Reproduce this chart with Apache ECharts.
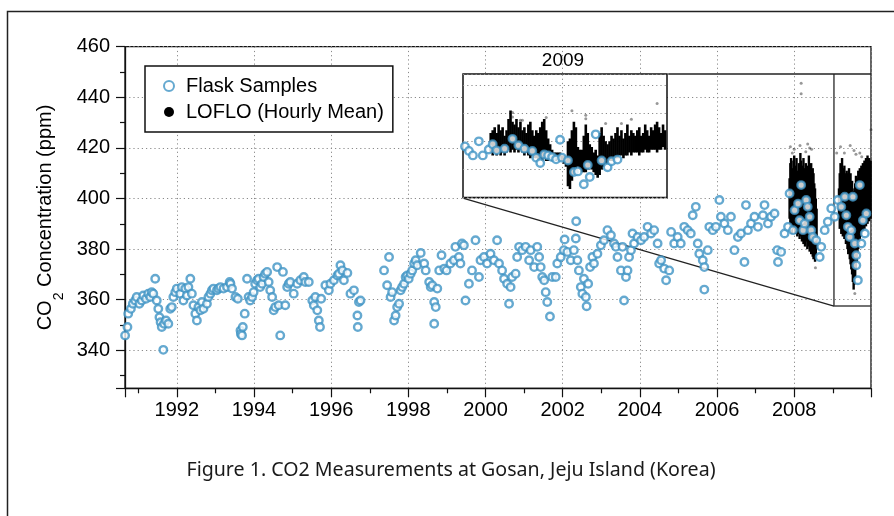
<!DOCTYPE html>
<html><head><meta charset="utf-8">
<script src="https://cdn.jsdelivr.net/npm/echarts@6/dist/echarts.min.js"></script>
<style>html,body{margin:0;padding:0;background:#fff}#c{width:894px;height:516px}</style>
</head><body><div id="c"></div>
<script>
// ---- Flask samples [decimal year, ppm] ----
const flaskSamples = [
[1990.66,345.9],[1990.72,349.2],[1990.74,354.5],[1990.81,356.4],[1990.86,358.4],[1990.92,359.7],[1990.96,361.1],
[1991.03,358.4],[1991.09,359.7],[1991.13,361.7],[1991.20,360.4],[1991.26,362.4],[1991.31,361.1],[1991.35,363.0],
[1991.39,362.4],[1991.44,368.3],[1991.48,359.7],[1991.52,356.4],[1991.55,353.1],[1991.58,351.1],[1991.61,349.2],
[1991.65,340.2],[1991.67,350.5],[1991.72,351.8],[1991.78,350.5],[1991.83,356.4],[1991.87,357.1],[1991.91,361.1],
[1991.96,363.0],[1992.00,364.4],[1992.09,362.4],[1992.13,365.0],[1992.17,359.7],[1992.22,364.4],[1992.26,361.7],
[1992.30,365.0],[1992.35,368.3],[1992.39,362.4],[1992.43,357.8],[1992.48,354.5],[1992.52,351.8],[1992.56,357.1],
[1992.61,355.8],[1992.65,359.1],[1992.69,356.4],[1992.78,358.4],[1992.82,361.1],[1992.87,362.4],[1992.91,363.7],
[1992.95,364.4],[1993.04,363.7],[1993.08,364.4],[1993.13,365.0],[1993.21,364.4],[1993.30,365.0],[1993.37,367.0],
[1993.39,366.3],[1993.43,364.4],[1993.52,361.1],[1993.58,360.4],[1993.65,347.8],[1993.66,346.5],[1993.69,345.9],
[1993.71,349.2],[1993.76,354.5],[1993.82,368.3],[1993.86,361.1],[1993.90,359.7],[1993.95,361.1],[1993.99,363.0],
[1994.03,366.3],[1994.08,367.7],[1994.12,368.3],[1994.16,365.0],[1994.21,366.3],[1994.25,369.0],[1994.29,370.3],
[1994.34,371.0],[1994.38,367.0],[1994.42,363.7],[1994.47,361.1],[1994.51,355.8],[1994.55,357.1],[1994.60,372.9],
[1994.64,357.8],[1994.68,345.9],[1994.75,371.0],[1994.81,357.8],[1994.86,365.0],[1994.90,366.3],[1994.94,367.0],
[1995.03,362.4],[1995.12,366.3],[1995.20,367.7],[1995.29,369.0],[1995.33,367.0],[1995.42,367.0],[1995.51,359.7],
[1995.55,357.8],[1995.59,361.1],[1995.64,355.8],[1995.68,351.8],[1995.71,349.2],[1995.74,360.4],[1995.85,365.7],
[1995.94,363.7],[1995.98,366.3],[1996.07,367.7],[1996.16,369.6],[1996.20,370.3],[1996.24,373.6],[1996.29,371.6],
[1996.33,367.7],[1996.42,370.6],[1996.50,362.4],[1996.59,363.7],[1996.68,353.8],[1996.69,349.2],[1996.72,359.1],
[1996.76,359.7],[1997.37,371.6],[1997.45,365.7],[1997.50,376.9],[1997.54,361.1],[1997.58,363.0],[1997.63,351.8],
[1997.67,353.8],[1997.71,357.1],[1997.76,358.4],[1997.80,363.7],[1997.84,365.0],[1997.89,366.3],[1997.93,369.0],
[1997.97,369.6],[1998.01,368.3],[1998.06,370.3],[1998.10,371.6],[1998.15,374.3],[1998.19,375.6],[1998.23,373.6],
[1998.32,378.5],[1998.41,374.3],[1998.45,371.6],[1998.54,367.0],[1998.58,365.0],[1998.62,365.7],[1998.67,359.1],
[1998.67,350.5],[1998.71,357.1],[1998.75,364.4],[1998.80,371.6],[1998.86,377.6],[1998.93,372.3],[1998.99,371.6],
[1999.09,374.3],[1999.18,375.6],[1999.22,380.9],[1999.31,376.9],[1999.39,382.2],[1999.44,381.5],[1999.35,374.3],
[1999.48,359.7],[1999.57,366.3],[1999.65,371.6],[1999.74,383.5],[1999.83,369.0],[1999.87,375.6],[1999.96,376.9],
[2000.04,374.3],[2000.13,378.2],[2000.22,375.6],[2000.30,383.5],[2000.35,374.3],[2000.43,371.6],[2000.48,368.3],
[2000.56,366.3],[2000.61,358.4],[2000.65,365.0],[2000.69,369.0],[2000.78,370.3],[2000.82,376.9],[2000.87,380.9],
[2000.95,379.6],[2001.04,380.9],[2001.13,375.6],[2001.17,379.6],[2001.26,372.9],[2001.34,380.9],[2001.39,376.9],
[2001.43,372.9],[2001.47,369.0],[2001.52,367.7],[2001.56,363.0],[2001.60,359.1],[2001.67,353.4],[2001.73,369.0],
[2001.82,369.0],[2001.86,374.3],[2001.95,376.9],[2002.03,379.6],[2002.05,383.8],[2002.12,378.9],[2002.21,375.6],
[2002.29,379.6],[2002.34,384.2],[2002.35,391.0],[2002.38,375.6],[2002.42,371.6],[2002.47,365.0],[2002.51,362.4],
[2002.55,368.3],[2002.60,361.1],[2002.62,357.4],[2002.66,366.3],[2002.71,372.9],[2002.77,376.9],[2002.81,374.3],
[2002.90,378.2],[2002.99,381.5],[2003.07,383.5],[2003.16,387.5],[2003.25,385.5],[2003.33,382.2],[2003.38,380.9],
[2003.42,376.9],[2003.51,371.6],[2003.55,380.9],[2003.59,359.7],[2003.64,369.0],[2003.68,371.6],[2003.72,376.9],
[2003.77,379.6],[2003.81,386.2],[2003.85,382.2],[2003.94,384.8],[2004.03,383.5],[2004.11,384.8],[2004.20,388.8],
[2004.29,386.2],[2004.37,387.5],[2004.46,382.2],[2004.50,374.3],[2004.55,375.6],[2004.63,372.3],[2004.68,367.7],
[2004.76,371.6],[2004.81,386.8],[2004.89,382.2],[2004.98,384.8],[2005.06,382.2],[2005.15,388.8],[2005.24,387.5],
[2005.32,386.2],[2005.37,393.4],[2005.45,396.7],[2005.50,382.2],[2005.54,378.2],[2005.63,375.6],[2005.67,372.9],
[2005.67,364.0],[2005.76,379.6],[2005.80,388.8],[2005.89,387.5],[2005.97,388.8],[2006.06,399.4],[2006.10,392.8],
[2006.19,390.1],[2006.28,387.5],[2006.36,392.8],[2006.45,379.6],[2006.54,384.8],[2006.62,386.2],[2006.71,374.9],
[2006.75,397.4],[2006.80,387.5],[2006.88,390.1],[2006.97,392.8],[2007.06,388.8],[2007.19,393.4],[2007.23,397.4],
[2007.32,390.1],[2007.40,392.8],[2007.49,394.1],[2007.56,379.6],[2007.58,374.9],[2007.66,378.9],[2007.75,386.2],
[2007.84,388.8],[2007.88,402.0],[2007.97,387.5],[2008.01,395.4],[2008.10,398.0],[2008.14,391.4],[2008.18,405.3],
[2008.23,387.5],[2008.27,390.1],[2008.31,399.4],[2008.35,396.7],[2008.40,392.8],[2008.44,387.5],[2008.48,384.8],
[2008.57,383.5],[2008.66,376.9],[2008.70,380.9],[2008.79,387.5],[2008.87,390.8],[2008.96,396.1],[2009.05,392.8],
[2009.13,399.4],[2009.22,396.7],[2009.31,400.7],[2009.35,393.4],[2009.39,388.8],[2009.44,384.8],[2009.48,387.5],
[2009.52,400.7],[2009.57,382.2],[2009.61,377.6],[2009.61,373.6],[2009.65,367.7],[2009.70,405.3],[2009.74,382.2],
[2009.78,391.4],[2009.83,386.2],[2009.87,394.1]
];

// ---- LOFLO hourly data, main panel: [year, low ppm, high ppm] of the dense band ----
const lofloMainBand = [
[2007.88,392,408],[2007.90,388,414],[2007.92,390,416],[2007.94,386,412],[2007.96,389,410],[2007.98,390,415],
[2008.00,388,417],[2008.02,386,410],[2008.04,389,413],[2008.06,387,416],[2008.08,385,411],[2008.10,388,409],
[2008.12,386,414],[2008.14,384,412],[2008.16,387,418],[2008.18,385,415],[2008.20,383,410],[2008.22,386,413],
[2008.24,382,416],[2008.26,384,412],[2008.28,381,409],[2008.30,385,414],[2008.32,383,411],[2008.34,380,408],
[2008.36,384,413],[2008.38,381,417],[2008.40,379,412],[2008.42,382,410],[2008.44,378,414],[2008.46,380,409],
[2008.48,377,412],[2008.50,376,410],[2008.52,378,406],[2008.54,375,404],[2008.56,376,400],[2008.58,380,396],
[2009.16,392,404],[2009.18,388,410],[2009.20,390,414],[2009.22,386,411],[2009.24,389,416],[2009.26,385,412],
[2009.28,388,409],[2009.30,384,413],[2009.32,386,410],[2009.34,382,408],[2009.36,385,411],[2009.38,380,407],
[2009.40,378,410],[2009.42,381,412],[2009.44,376,408],[2009.46,374,410],[2009.48,372,405],[2009.50,370,407],
[2009.52,367,403],[2009.54,364,400],[2009.56,366,404],[2009.58,369,406],[2009.60,372,409],[2009.62,375,405],
[2009.64,378,408],[2009.66,380,411],[2009.68,382,409],[2009.70,384,412],[2009.72,385,410],[2009.74,386,413],
[2009.76,388,411],[2009.78,387,414],[2009.80,389,412],[2009.82,388,415],[2009.84,390,413],[2009.86,389,416],
[2009.88,391,414],[2009.90,390,417],[2009.92,392,413],[2009.94,391,416],[2009.96,393,414],[2009.98,392,415]
];
const lofloMainOutliers = [
[2008.18,445.6],[2008.18,441.4],[2007.90,420.5],[2008.00,419.5],[2008.15,421.0],[2008.35,421.5],[2008.40,420.0],
[2008.45,419.5],[2008.30,418.5],[2008.55,372.6],[2007.95,418.0],[2009.20,420.5],[2009.30,418.0],[2009.45,421.0],
[2009.55,419.0],[2009.60,417.5],[2009.70,418.0],[2009.75,416.5],[2009.99,427.2],[2009.57,362.5],[2009.10,418.0]
];

// ---- 2009 inset ----
const insetFlask = [
[2009.01,388.2],[2009.03,386.6],[2009.05,385.0],[2009.08,390.0],[2009.10,385.0],[2009.13,387.1],[2009.15,389.0],
[2009.17,386.8],[2009.21,387.4],[2009.25,390.9],[2009.28,388.6],[2009.31,387.4],[2009.35,386.6],[2009.37,384.2],
[2009.39,382.3],[2009.41,385.3],[2009.43,385.0],[2009.45,384.4],[2009.47,383.6],[2009.49,390.6],[2009.50,384.2],
[2009.53,383.2],[2009.56,379.1],[2009.58,379.3],[2009.61,374.7],[2009.63,381.6],[2009.64,377.3],[2009.67,392.5],
[2009.70,383.2],[2009.73,380.8],[2009.75,382.9],[2009.78,383.5]
];
const insetLofloBand = [
[2009.14,386,393],[2009.15,385,394],[2009.16,386,395],[2009.17,385,393],[2009.18,386,396],[2009.19,385,394],
[2009.20,386,395],[2009.21,385,392],[2009.22,386,394],[2009.23,387,398],[2009.24,386,401],[2009.25,387,397],
[2009.26,386,396],[2009.27,387,398],[2009.28,386,395],[2009.29,387,397],[2009.30,386,394],[2009.31,385,395],
[2009.32,386,393],[2009.33,385,396],[2009.34,384,397],[2009.35,385,394],[2009.36,384,392],[2009.37,384,394],
[2009.38,383,393],[2009.39,384,395],[2009.40,383,397],[2009.41,384,398],[2009.42,383,394],[2009.43,383,391],
[2009.44,384,389],[2009.45,383,387],[2009.46,384,386],[2009.47,383,386],[2009.48,384,386],[2009.49,383,386],
[2009.50,383,385],[2009.51,382,385],[2009.52,381,384],[2009.53,374,390],[2009.54,373,391],[2009.55,376,394],
[2009.56,378,397],[2009.57,380,395],[2009.58,381,388],[2009.59,380,387],[2009.60,379,387],[2009.61,379,392],
[2009.62,379,396],[2009.63,380,393],[2009.64,381,389],[2009.65,380,388],[2009.66,379,386],[2009.67,378,387],
[2009.68,377,385],[2009.69,378,393],[2009.70,380,395],[2009.71,381,392],[2009.72,382,390],[2009.73,382,389],
[2009.74,383,390],[2009.75,383,392],[2009.76,383,391],[2009.77,384,393],[2009.78,384,395],[2009.79,385,392],
[2009.80,385,394],[2009.81,384,391],[2009.82,385,393],[2009.83,385,396],[2009.84,386,392],[2009.85,385,394],
[2009.86,386,393],[2009.87,386,392],[2009.88,386,394],[2009.89,385,395],[2009.90,386,392],[2009.91,386,393],
[2009.92,387,396],[2009.93,386,394],[2009.94,386,392],[2009.95,387,395],[2009.96,387,394],[2009.97,387,396],
[2009.98,386,397],[2009.99,387,395],[2010.00,387,393],[2010.01,388,396],[2010.02,387,394]
];
const insetLofloOutliers = [
[2009.25,400.3],[2009.25,398.7],[2009.30,397.5],[2009.42,398.5],[2009.55,400.9],[2009.62,399.3],[2009.62,398.1],
[2009.72,396.4],[2009.85,397.9],[2009.98,403.5],[2009.80,396.4],[2009.29,397.5]
];

// ---- texts ----
const legendNames = ['Flask Samples', 'LOFLO (Hourly Mean)'];
const insetTitle = '2009';
const caption = 'Figure 1. CO2 Measurements at Gosan, Jeju Island (Korea)';

// ---- axes ranges ----
const mainX = {min: 1990.657, max: 2009.99, step: 2};
const mainY = {min: 325, max: 460, step: 20};
const insetX = {min: 2009.0, max: 2010.03, mid: 2009.5};
const insetY = {min: 370, max: 414, step: 10};
// zoom bracket (main-panel data units)
const bracket = {x0: 2009.03, yLow: 357.5, yHigh: 449.2, insetLeftX: 1999.436, insetBottomY: 400.1, insetRightX: 2004.735};

const FLASK = '#3f93c4';
const FONT = 'Liberation Sans, Arial, Helvetica, sans-serif';
const dotted = {color: '#8a8a8a', type: [1.2, 3], width: 1};

function bandRender(w) {
  return function (params, api) {
    const x = api.value(0), lo = api.value(1), hi = api.value(2);
    const p1 = api.coord([x, hi]), p2 = api.coord([x, lo]);
    return {type: 'rect', shape: {x: p1[0] - w / 2, y: p1[1], width: w, height: p2[1] - p1[1]},
      style: {fill: '#000'}};
  };
}

const chart = echarts.init(document.getElementById('c'), null, {renderer: 'canvas'});
chart.setOption({
  backgroundColor: '#fff',
  animation: false,
  textStyle: {fontFamily: FONT},
  grid: [
    {left: 125, top: 46.7, width: 746, height: 341.6, show: true, borderColor: '#111', borderWidth: 1.3, backgroundColor: 'transparent'},
    {left: 463, top: 74, width: 204, height: 123.5, show: true, borderColor: '#111', borderWidth: 1.5, backgroundColor: '#fff', z: 3}
  ],
  xAxis: [
    {type: 'value', gridIndex: 0, min: mainX.min, max: mainX.max, minInterval: mainX.step, maxInterval: mainX.step, splitNumber: 10,
      axisLine: {show: true, lineStyle: {color: '#111', width: 1.3}},
      axisTick: {show: true, length: 9, lineStyle: {color: '#111', width: 1.2}},
      minorTick: {show: true, splitNumber: 2, length: 5, lineStyle: {color: '#111', width: 1.2}},
      axisLabel: {showMinLabel: false, showMaxLabel: false, fontSize: 20, color: '#000', fontFamily: FONT, margin: 12,
        formatter: v => String(Math.round(v))},
      splitLine: {show: true, lineStyle: dotted}},
    {type: 'value', gridIndex: 1, min: insetX.min, max: insetX.max, z: 3,
      axisLine: {show: false}, axisTick: {show: false}, axisLabel: {show: false}, splitLine: {show: false}}
  ],
  yAxis: [
    {type: 'value', gridIndex: 0, min: mainY.min, max: mainY.max, minInterval: mainY.step, maxInterval: mainY.step, splitNumber: 7,
      axisLine: {show: true, lineStyle: {color: '#111', width: 1.3}},
      axisTick: {show: true, length: 9, lineStyle: {color: '#111', width: 1.2}},
      minorTick: {show: true, splitNumber: 2, length: 5, lineStyle: {color: '#111', width: 1.2}},
      axisLabel: {showMinLabel: false, fontSize: 20, color: '#000', fontFamily: FONT, margin: 15,
        formatter: v => String(Math.round(v))},
      splitLine: {show: true, lineStyle: dotted},
      name: '{a|CO}{s|2}{a| Concentration (ppm)}', nameLocation: 'middle', nameGap: 67, nameRotate: 90,
      nameTextStyle: {rich: {
        a: {fontSize: 20, color: '#000', fontFamily: FONT, lineHeight: 24, verticalAlign: 'middle'},
        s: {fontSize: 14, color: '#000', fontFamily: FONT, lineHeight: 14, verticalAlign: 'bottom', padding: [0, 0, -8, 0]}
      }}},
    {type: 'value', gridIndex: 1, min: insetY.min, max: insetY.max, interval: insetY.step, z: 3,
      axisLine: {show: false}, axisTick: {show: false}, axisLabel: {show: false},
      splitLine: {show: true, lineStyle: dotted}}
  ],
  legend: {
    orient: 'vertical', left: 145, top: 66, padding: [10, 9, 10, 18], itemGap: 6,
    itemWidth: 10, itemHeight: 10,
    borderColor: '#111', borderWidth: 1.5, backgroundColor: '#fff',
    textStyle: {fontSize: 20, color: '#000', fontFamily: FONT, padding: [0, 0, 0, 7]},
    data: [{name: legendNames[0], icon: 'circle'}, {name: legendNames[1], icon: 'circle'}]
  },
  graphic: [
    {type: 'rect', shape: {x: 7.5, y: 11.5, width: 940, height: 560}, style: {fill: 'none', stroke: '#222', lineWidth: 1.5}, silent: true, z: 0},
    {type: 'text', x: 563, y: 61, style: {text: insetTitle, fontSize: 19, fill: '#000', fontFamily: FONT, align: 'center', verticalAlign: 'middle'}},
    {type: 'text', x: 451, y: 470, style: {text: caption, fontSize: 19.6, fill: '#1a1a1a', fontFamily: 'Noto Sans, Open Sans, sans-serif', align: 'center', verticalAlign: 'middle'}}
  ],
  series: [
    {name: legendNames[1], type: 'custom', xAxisIndex: 0, yAxisIndex: 0, data: lofloMainBand, renderItem: bandRender(2.4),
      encode: {x: 0, y: [1, 2]}, itemStyle: {color: '#000'}, z: 2, silent: true},
    {name: legendNames[1], type: 'scatter', xAxisIndex: 0, yAxisIndex: 0, data: lofloMainOutliers, symbolSize: 3,
      itemStyle: {color: 'rgba(40,40,40,0.6)'}, z: 2, silent: true},
    {name: legendNames[0], type: 'scatter', xAxisIndex: 0, yAxisIndex: 0, data: flaskSamples, symbolSize: 7.5,
      itemStyle: {color: '#fff', borderColor: FLASK, borderWidth: 2.4}, z: 3, silent: true},
    {type: 'line', xAxisIndex: 0, yAxisIndex: 0, showSymbol: false, symbol: 'none', silent: true, z: 3,
      lineStyle: {color: '#444', width: 1.5},
      data: [[bracket.x0, bracket.yHigh], [bracket.x0, bracket.yLow], [mainX.max, bracket.yLow]]},
    {type: 'line', xAxisIndex: 0, yAxisIndex: 0, showSymbol: false, symbol: 'none', silent: true, z: 3,
      lineStyle: {color: '#222', width: 1.4},
      data: [[bracket.insetRightX, bracket.yHigh], [mainX.max, bracket.yHigh]]},
    {type: 'line', xAxisIndex: 0, yAxisIndex: 0, showSymbol: false, symbol: 'none', silent: true, z: 3,
      lineStyle: {color: '#222', width: 1.3},
      data: [[bracket.insetLeftX, bracket.insetBottomY], [bracket.x0, bracket.yLow]]},
    {name: legendNames[1], type: 'custom', xAxisIndex: 1, yAxisIndex: 1, data: insetLofloBand, renderItem: bandRender(2.6),
      encode: {x: 0, y: [1, 2]}, itemStyle: {color: '#000'}, z: 4, silent: true, clip: true},
    {name: legendNames[1], type: 'scatter', xAxisIndex: 1, yAxisIndex: 1, data: insetLofloOutliers, symbolSize: 3,
      itemStyle: {color: 'rgba(40,40,40,0.6)'}, z: 4, silent: true},
    {name: legendNames[0], type: 'scatter', xAxisIndex: 1, yAxisIndex: 1, data: insetFlask, symbolSize: 7.5,
      itemStyle: {color: '#fff', borderColor: FLASK, borderWidth: 2.4}, z: 5, silent: true,
      markLine: {silent: true, symbol: 'none', label: {show: false}, lineStyle: dotted, z: 3, data: [{xAxis: insetX.mid}]}}
  ]
});
</script></body></html>
